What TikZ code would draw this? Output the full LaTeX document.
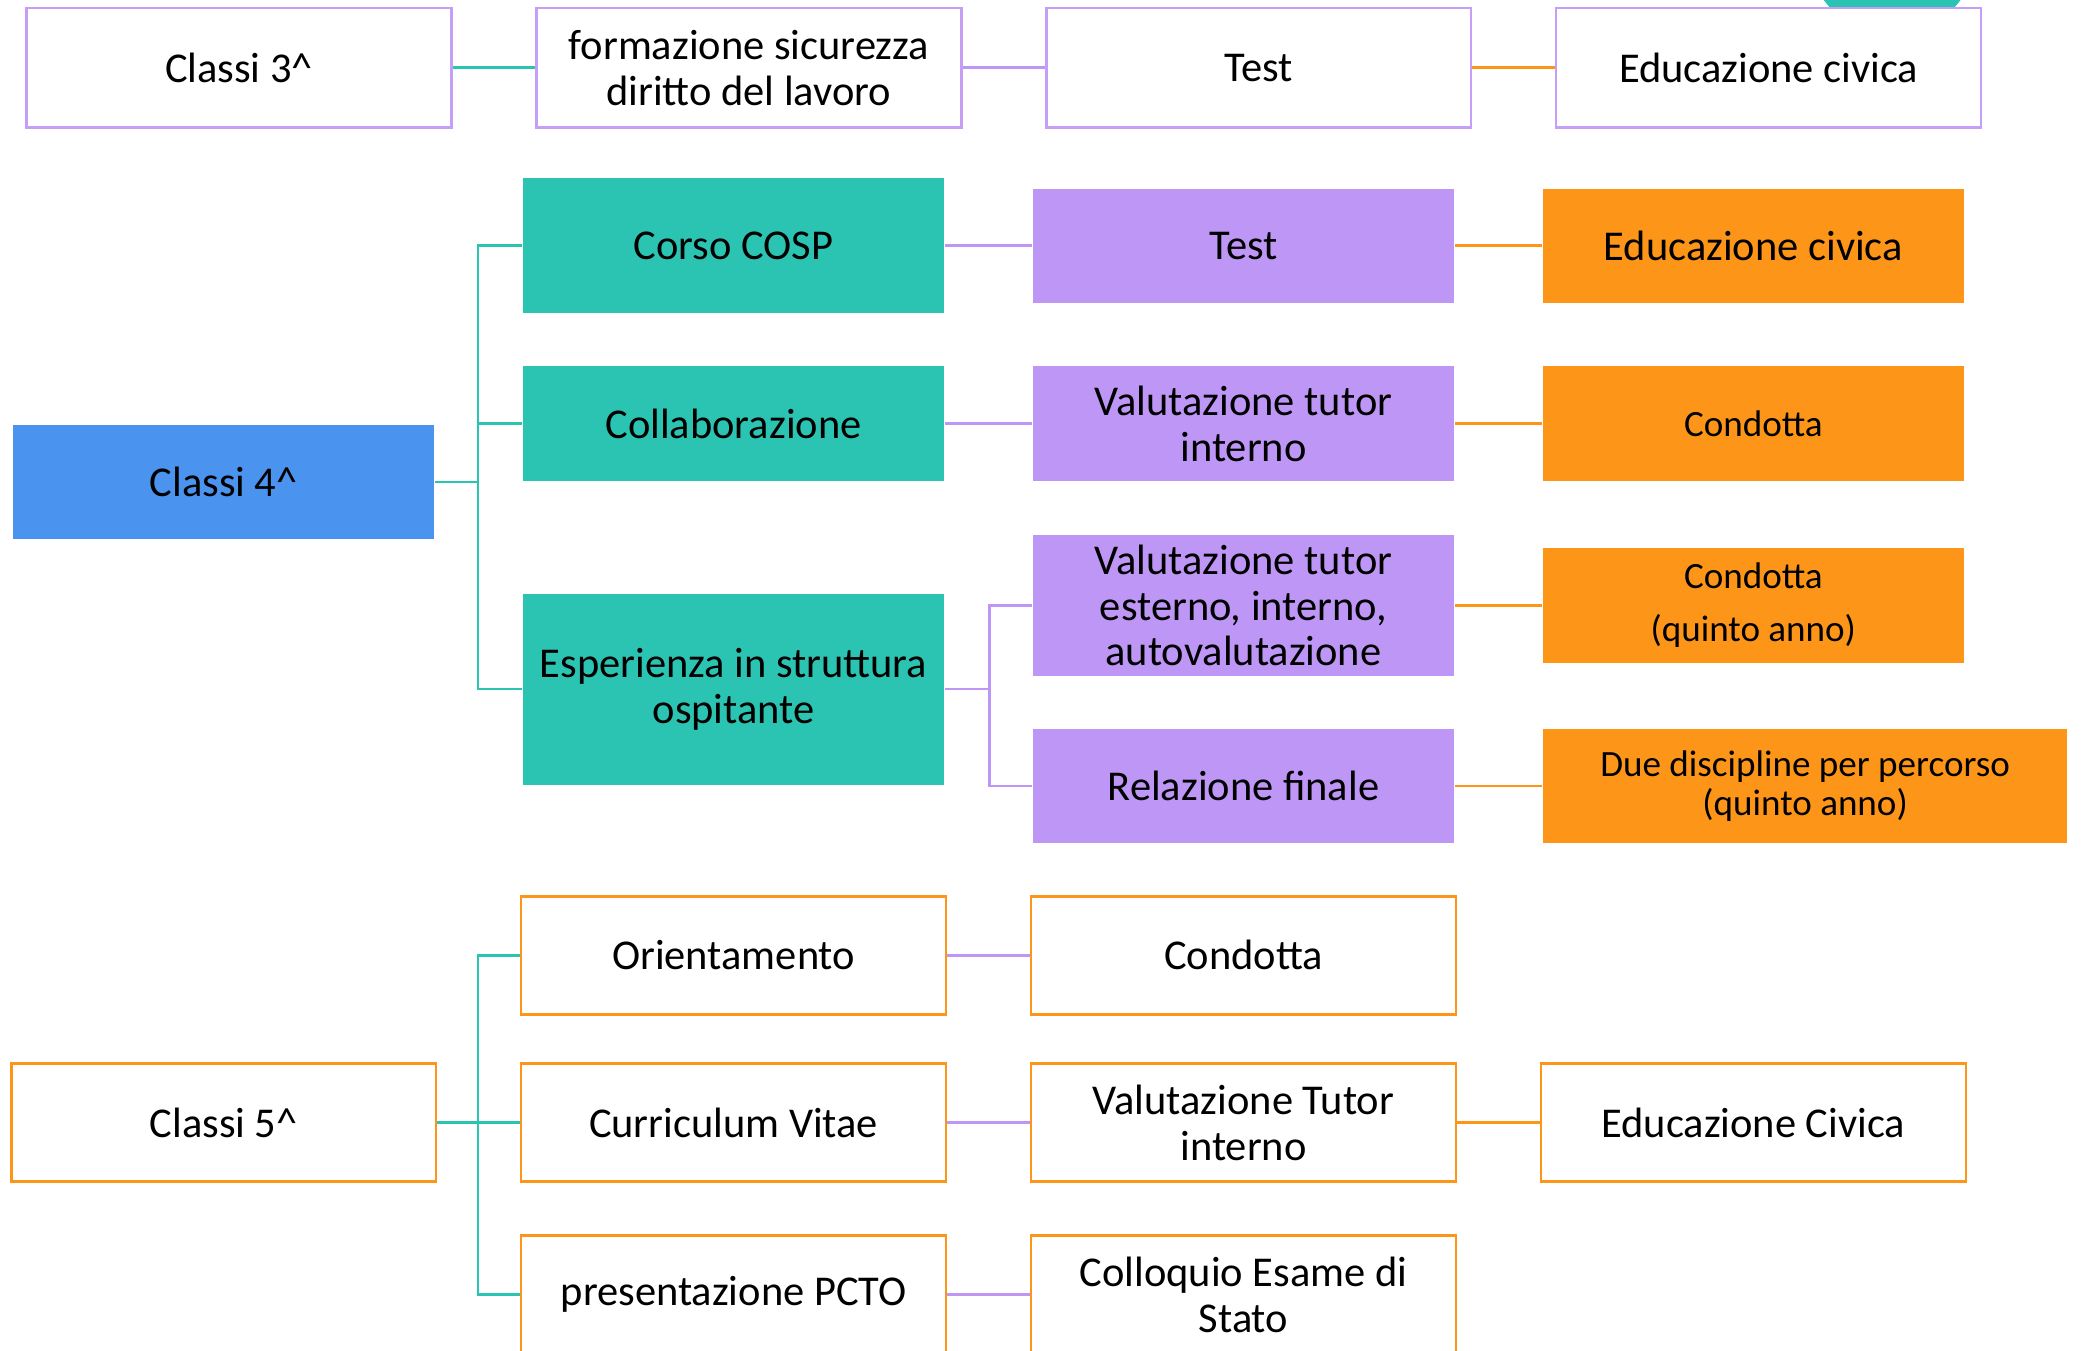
\documentclass[tikz,border=0pt]{standalone}
\usepackage{fontspec}
\setmainfont{Carlito}
\definecolor{tealc}{HTML}{2BC3B1}
\definecolor{lilac}{HTML}{BE96F5}
\definecolor{lilacline}{HTML}{C59FF7}
\definecolor{orangec}{HTML}{FD9618}
\definecolor{bluec}{HTML}{4A93EE}
\tikzset{
  box/.style={rectangle, minimum width=31.7mm, minimum height=8.6mm, inner sep=0pt,
    align=center, font=\fontsize{9.1}{9.8}\selectfont, line width=0.55pt},
  lilacframe/.style={box, draw=lilacline, fill=white, minimum width=32mm, minimum height=9mm},
  orangeframe/.style={box, draw=orangec, fill=white, minimum width=32mm, minimum height=8.9mm},
  tealbox/.style={box, fill=tealc},
  lilacbox/.style={box, fill=lilac},
  orangebox/.style={box, fill=orangec},
  bluebox/.style={box, fill=bluec},
  smalltext/.style={font=\fontsize{7.95}{8.5}\selectfont},
  tline/.style={draw=tealc, line width=0.55pt},
  pline/.style={draw=lilac, line width=0.55pt},
  oline/.style={draw=orangec, line width=0.55pt}
}
\begin{document}
\begin{tikzpicture}[x=0.1mm, y=-0.1mm]
    \useasboundingbox (0,0) rectangle (1568,1017);
    \clip (0,0) rectangle (1568,1017);
    \node[circle, fill=tealc, minimum size=12.74mm, inner sep=0pt] (badge) at (1425,-37.5) {};
    \node[lilacframe] (classi3) at (180,51) {Classi 3\textasciicircum};
    \node[lilacframe] (form) at (564,51) {formazione sicurezza\\diritto del lavoro};
    \node[lilacframe] (test3) at (948,51) {Test};
    \node[lilacframe] (civ3) at (1332,51) {Educazione civica};
    \node[bluebox] (classi4) at (168.5,363) {Classi 4\textasciicircum};
    \node[tealbox, minimum height=10.2mm] (cosp) at (552.5,185) {Corso COSP};
    \node[tealbox] (collab) at (552.5,319) {Collaborazione};
    \node[tealbox, minimum height=14.4mm] (esp) at (552.5,519) {Esperienza in struttura\\ospitante};
    \node[lilacbox] (test4) at (936.5,185) {Test};
    \node[lilacbox] (valint) at (936.5,319) {Valutazione tutor\\interno};
    \node[lilacbox, minimum height=10.6mm] (valest) at (936.5,456) {Valutazione tutor\\esterno, interno,\\autovalutazione};
    \node[lilacbox] (relaz) at (936.5,592) {Relazione finale};
    \node[orangebox] (civ4) at (1320.5,185) {Educazione civica};
    \node[orangebox, smalltext] (cond4) at (1320.5,319) {Condotta};
    \node[orangebox, font=\fontsize{7.95}{11.4}\selectfont] (condq) at (1320.5,456) {Condotta\\(quinto anno)};
    \node[orangebox, smalltext, minimum width=39.5mm] (due) at (1359.5,592) {Due discipline per percorso\\(quinto anno)};
    \node[orangeframe] (classi5) at (168.5,845.5) {Classi 5\textasciicircum};
    \node[orangeframe] (orient) at (552.5,719.5) {Orientamento};
    \node[orangeframe] (cv) at (552.5,845.5) {Curriculum Vitae};
    \node[orangeframe] (pcto) at (552.5,975) {presentazione PCTO};
    \node[orangeframe] (cond5) at (936.5,719.5) {Condotta};
    \node[orangeframe] (valtut) at (936.5,845.5) {Valutazione Tutor\\interno};
    \node[orangeframe] (colloq) at (936.5,975) {Colloquio Esame di\\Stato};
    \node[orangeframe] (civ5) at (1320.5,845.5) {Educazione Civica};
    \coordinate (fork4) at (360,363);
    \coordinate (forkesp) at (745,519);
    \coordinate (fork5) at (360,845.5);
    \draw[tline] (classi3) to (form);
    \draw[pline] (form) to (test3);
    \draw[oline] (test3) to (civ3);
    \draw[tline] (classi4) to (fork4);
    \draw[tline] (fork4) |- (cosp);
    \draw[tline] (fork4) |- (collab);
    \draw[tline] (fork4) |- (esp);
    \draw[pline] (cosp) to (test4);
    \draw[pline] (collab) to (valint);
    \draw[pline] (esp) to (forkesp);
    \draw[pline] (forkesp) |- (valest);
    \draw[pline] (forkesp) |- (relaz);
    \draw[oline] (test4) to (civ4);
    \draw[oline] (valint) to (cond4);
    \draw[oline] (valest) to (condq);
    \draw[oline] (relaz) to (due);
    \draw[tline] (classi5) to (fork5);
    \draw[tline] (fork5) |- (orient);
    \draw[tline] (fork5) |- (cv);
    \draw[tline] (fork5) |- (pcto);
    \draw[pline] (orient) to (cond5);
    \draw[pline] (cv) to (valtut);
    \draw[pline] (pcto) to (colloq);
    \draw[oline] (valtut) to (civ5);
\end{tikzpicture}
\end{document}
